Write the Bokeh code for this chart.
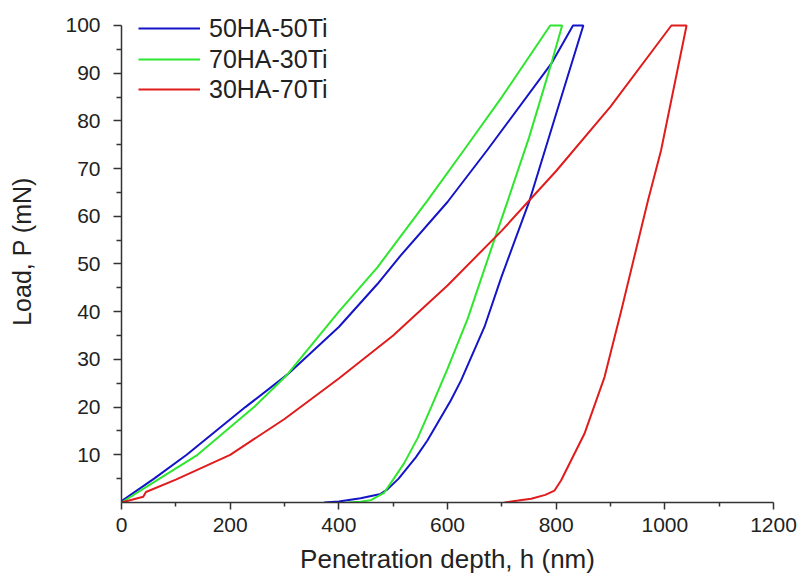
from bokeh.plotting import figure
from bokeh.models import Range1d, FixedTicker, Legend, LegendItem
from bokeh.embed import file_html
from bokeh.resources import INLINE

# ---- data ----
series_names = ["50HA-50Ti", "70HA-30Ti", "30HA-70Ti"]

blue_h = [0, 60, 120, 228, 305, 400, 471, 514, 600, 674, 791, 831, 850,
          800, 751, 699, 668, 625, 606, 563, 542, 510, 490, 477, 440, 400, 373]
blue_P = [0.3, 5, 10, 20, 26.8, 36.8, 45.8, 51.8, 63, 74, 92, 100, 100,
          81.5, 63.3, 47.2, 36.8, 25.6, 21.4, 13, 9.5, 5, 2.8, 1.8, 0.9, 0.2, 0]

green_h = [0, 70, 140, 244, 305, 400, 471, 563, 631, 700, 789, 811,
           791, 750, 711, 680, 637, 600, 570, 545, 520, 500, 483, 470, 459, 440, 416]
green_P = [0, 5, 10, 20, 26.8, 40, 49.3, 63.3, 74, 85, 100, 100,
           92, 76.5, 63.3, 53, 38.5, 28, 20, 13.5, 8.2, 4.8, 2.0, 1.2, 0.5, 0.15, 0]

red_h = [0, 40, 45, 100, 200, 300, 400, 500, 600, 700, 800, 900, 1012, 1040,
         993, 969, 954, 920, 889, 852, 809, 797, 780, 754, 730, 705]
red_P = [0, 1.2, 2.2, 4.8, 10, 17.5, 26, 35, 45.5, 57, 69.5, 83, 100, 100,
         73.8, 63.3, 56.3, 40.3, 26.3, 14.4, 4.6, 2.5, 1.6, 0.8, 0.4, 0]

x_ticks = [0, 200, 400, 600, 800, 1000, 1200]
x_minor = [100, 300, 500, 700, 900, 1100]
y_ticks = [10, 20, 30, 40, 50, 60, 70, 80, 90, 100]
y_minor = [5, 15, 25, 35, 45, 55, 65, 75, 85, 95]

colors = ["#1414c8", "#2ee62e", "#e01c1c"]
FONT = "Liberation Sans"
TXT = "#222222"

# frame: left 121 .. right 773 (0..1200), bottom 502 (P=0), P=100 at 25 px
p = figure(width=801, height=578, output_backend="svg", toolbar_location=None,
           x_range=Range1d(0, 1200), y_range=Range1d(0, 105.24),
           min_border_left=121, min_border_right=28, min_border_top=0, min_border_bottom=76)
p.outline_line_color = None
p.xgrid.grid_line_color = None
p.ygrid.grid_line_color = None
p.background_fill_color = "white"
p.border_fill_color = "white"

renderers = []
for hx, py, c in zip([blue_h, green_h, red_h], [blue_P, green_P, red_P], colors):
    renderers.append(p.line(hx, py, line_color=c, line_width=2))

for ax in (p.xaxis[0], p.yaxis[0]):
    ax.axis_line_color = "#333333"
    ax.axis_line_width = 1.5
    ax.major_tick_line_color = "#333333"
    ax.minor_tick_line_color = "#333333"
    ax.major_tick_line_width = 1.5
    ax.minor_tick_line_width = 1.5
    ax.major_tick_in = 0
    ax.minor_tick_in = 0
    ax.major_label_text_font = FONT
    ax.major_label_text_font_size = "21px"
    ax.major_label_text_color = TXT
    ax.axis_label_text_font = FONT
    ax.axis_label_text_font_style = "normal"
    ax.axis_label_text_color = TXT

p.yaxis[0].bounds = (0, 100)
p.xaxis[0].axis_label_text_font_size = "26px"
p.yaxis[0].axis_label_text_font_size = "25px"
p.xaxis[0].ticker = FixedTicker(ticks=x_ticks, minor_ticks=x_minor)
p.yaxis[0].ticker = FixedTicker(ticks=y_ticks, minor_ticks=y_minor)
p.xaxis[0].major_tick_out = 7
p.xaxis[0].minor_tick_out = 4
p.yaxis[0].major_tick_out = 8
p.yaxis[0].minor_tick_out = 5
p.xaxis[0].major_label_standoff = 8
p.yaxis[0].major_label_standoff = 13
p.xaxis[0].axis_label = "Penetration depth, h (nm)"
p.yaxis[0].axis_label = "Load, P (mN)"
p.xaxis[0].axis_label_standoff = 9
p.yaxis[0].axis_label_standoff = 26

legend_y = [459, 428, 398]
for name, r, ly in zip(series_names, renderers, legend_y):
    lg = Legend(items=[LegendItem(label=name, renderers=[r])], location=(17, ly),
                padding=0, margin=0, border_line_color=None, background_fill_alpha=0,
                glyph_width=62, glyph_height=30, label_height=30, spacing=0,
                label_standoff=9, label_text_font=FONT, label_text_font_size="25px",
                label_text_color=TXT)
    p.add_layout(lg)

open("out.html", "w").write(file_html(p, INLINE))
